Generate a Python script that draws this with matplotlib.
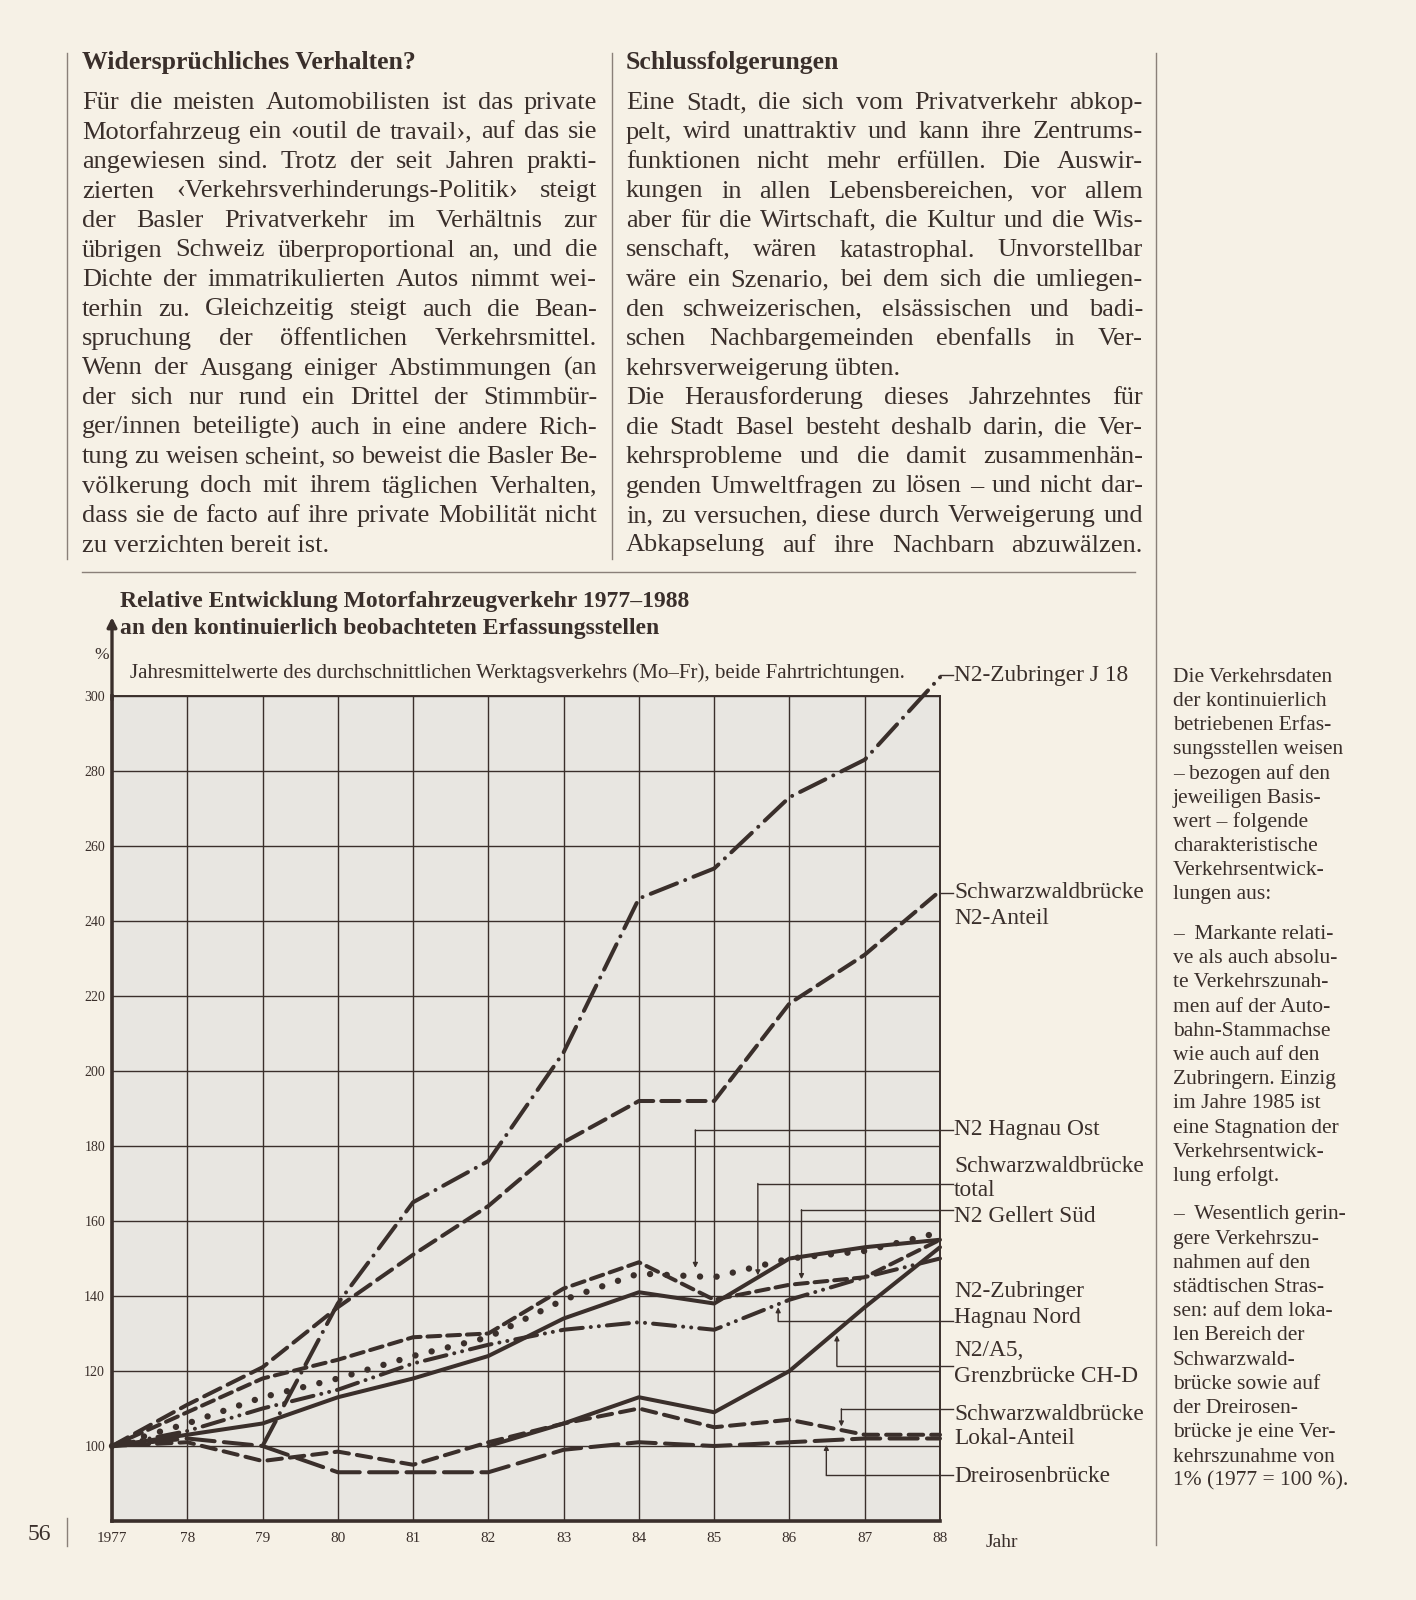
import matplotlib
matplotlib.use("Agg")
import matplotlib.pyplot as plt

# ===== data (1977 = 100) =====
years = list(range(1977, 1989))
years_j18 = list(range(1979, 1989))
years_a5 = list(range(1982, 1989))

j18 = [100, 138, 165, 176, 205, 246, 254, 273, 283, 305]
sb_n2 = [100, 111, 121, 137, 151, 164, 181, 192, 192, 218, 231, 248]
hagnau_ost = [100, 106, 113, 118, 124, 129, 139, 146, 145, 150, 152, 157]
sb_total = [100, 103, 106, 113, 118, 124, 134, 141, 138, 150, 153, 155]
gellert = [100, 109, 118, 123, 129, 130, 142, 149, 139, 143, 145, 155]
hagnau_nord = [100, 104, 110, 115, 122, 127, 131, 133, 131, 139, 145, 150]
grenz_a5 = [100, 106, 113, 109, 120, 137, 153]
sb_lokal = [100, 101, 96, 98.5, 95, 101, 106, 110, 105, 107, 103, 103]
dreirosen = [100, 102, 100, 93, 93, 93, 99, 101, 100, 101, 102, 102]

ytick_vals = [100, 120, 140, 160, 180, 200, 220, 240, 260, 280, 300]
xtick_labels = ["1977", "78", "79", "80", "81", "82", "83", "84", "85", "86", "87", "88"]

left_head = "Widersprüchliches Verhalten?"
left_lines = [
    "Für die meisten Automobilisten ist das private",
    "Motorfahrzeug ein ‹outil de travail›, auf das sie",
    "angewiesen sind. Trotz der seit Jahren prakti-",
    "zierten ‹Verkehrsverhinderungs-Politik› steigt",
    "der Basler Privatverkehr im Verhältnis zur",
    "übrigen Schweiz überproportional an, und die",
    "Dichte der immatrikulierten Autos nimmt wei-",
    "terhin zu. Gleichzeitig steigt auch die Bean-",
    "spruchung der öffentlichen Verkehrsmittel.",
    "Wenn der Ausgang einiger Abstimmungen (an",
    "der sich nur rund ein Drittel der Stimmbür-",
    "ger/innen beteiligte) auch in eine andere Rich-",
    "tung zu weisen scheint, so beweist die Basler Be-",
    "völkerung doch mit ihrem täglichen Verhalten,",
    "dass sie de facto auf ihre private Mobilität nicht",
    "zu verzichten bereit ist.",
]
left_last = {15}

right_head = "Schlussfolgerungen"
right_lines = [
    "Eine Stadt, die sich vom Privatverkehr abkop-",
    "pelt, wird unattraktiv und kann ihre Zentrums-",
    "funktionen nicht mehr erfüllen. Die Auswir-",
    "kungen in allen Lebensbereichen, vor allem",
    "aber für die Wirtschaft, die Kultur und die Wis-",
    "senschaft, wären katastrophal. Unvorstellbar",
    "wäre ein Szenario, bei dem sich die umliegen-",
    "den schweizerischen, elsässischen und badi-",
    "schen Nachbargemeinden ebenfalls in Ver-",
    "kehrsverweigerung übten.",
    "Die Herausforderung dieses Jahrzehntes für",
    "die Stadt Basel besteht deshalb darin, die Ver-",
    "kehrsprobleme und die damit zusammenhän-",
    "genden Umweltfragen zu lösen – und nicht dar-",
    "in, zu versuchen, diese durch Verweigerung und",
    "Abkapselung auf ihre Nachbarn abzuwälzen.",
]
right_last = {9}

side_paras = [
    ["Die Verkehrsdaten", "der kontinuierlich", "betriebenen Erfas-",
     "sungsstellen weisen", "– bezogen auf den", "jeweiligen Basis-",
     "wert – folgende", "charakteristische", "Verkehrsentwick-",
     "lungen aus:"],
    ["–  Markante relati-", "ve als auch absolu-", "te Verkehrszunah-",
     "men auf der Auto-", "bahn-Stammachse", "wie auch auf den",
     "Zubringern. Einzig", "im Jahre 1985 ist", "eine Stagnation der",
     "Verkehrsentwick-", "lung erfolgt."],
    ["–  Wesentlich gerin-", "gere Verkehrszu-", "nahmen auf den",
     "städtischen Stras-", "sen: auf dem loka-", "len Bereich der",
     "Schwarzwald-", "brücke sowie auf", "der Dreirosen-",
     "brücke je eine Ver-", "kehrszunahme von", "1% (1977 = 100 %)."],
]

# ===== style =====
PAGE = "#f6f1e6"
PLOT_BG = "#e8e6e1"
INK = "#3a2f2b"
SERIF = ["Liberation Serif", "DejaVu Serif"]
plt.rcParams["font.family"] = SERIF

W, H = 1416, 1600


def fx(x):
    return x / W


def fy(y):
    return 1 - y / H


fig = plt.figure(figsize=(W / 100, H / 100), dpi=100, facecolor=PAGE)
renderer = fig.canvas.get_renderer()


def put(x, y, s, size, weight="normal", ha="left"):
    return fig.text(fx(x), fy(y), s, fontsize=size, fontweight=weight,
                    color=INK, ha=ha, va="center")


def justify(line, x0, x1, y, size, last=False):
    if last:
        put(x0, y, line, size)
        return
    words = line.split(" ")
    texts = [put(0, y, w, size) for w in words]
    widths = [t.get_window_extent(renderer).width for t in texts]
    n_gaps = max(len(words) - 1, 1)
    min_gap = 4.0
    if sum(widths) + min_gap * n_gaps > x1 - x0:
        # too long at this size: shrink this line until it fits
        scale = (x1 - x0 - min_gap * n_gaps) / sum(widths)
        for t in texts:
            t.set_fontsize(size * scale)
        widths = [t.get_window_extent(renderer).width for t in texts]
    gap = (x1 - x0 - sum(widths)) / n_gaps
    x = x0
    for t, w in zip(texts, widths):
        t.set_x(fx(x))
        x += w + gap


# ===== page text =====
BODY = 19
put(82, 63, left_head, 18.5, "bold")
put(626, 63, right_head, 18.5, "bold")
for i, line in enumerate(left_lines):
    justify(line, 82, 597, 103 + 29.5 * i, BODY, i in left_last)
for i, line in enumerate(right_lines):
    justify(line, 626, 1143, 103 + 29.5 * i, BODY, i in right_last)

side_starts = [677, 934.5, 1215]
for start, para in zip(side_starts, side_paras):
    for i, line in enumerate(para):
        put(1173, start + 24.2 * i, line, 15.5)

put(28, 1535, "56", 17)

# rules
rule = dict(color="#8a8079", lw=1.0, transform=fig.transFigure)
fig.add_artist(plt.Line2D([fx(67), fx(67)], [fy(53), fy(559)], **rule))
fig.add_artist(plt.Line2D([fx(612), fx(612)], [fy(53), fy(559)], **rule))
fig.add_artist(plt.Line2D([fx(1156), fx(1156)], [fy(53), fy(1545)], **rule))
fig.add_artist(plt.Line2D([fx(82), fx(1135)], [fy(572), fy(572)], **rule))
fig.add_artist(plt.Line2D([fx(67), fx(67)], [fy(1518), fy(1546)], **rule))

# ===== chart =====
put(120, 602, "Relative Entwicklung Motorfahrzeugverkehr 1977–1988", 17, "bold")
put(120, 629, "an den kontinuierlich beobachteten Erfassungsstellen", 17, "bold")
put(130, 673, "Jahresmittelwerte des durchschnittlichen Werktagsverkehrs (Mo–Fr), "
    "beide Fahrtrichtungen.", 15)
put(94, 655, "%", 12.5)

ax = fig.add_axes([fx(112), fy(1521), 828 / W, 825 / H])
ax.set_facecolor(PLOT_BG)
ax.set_xlim(1977, 1988)
ax.set_ylim(80, 300)
ax.set_xticks(years)
ax.set_xticklabels(xtick_labels, fontsize=11, color=INK)
ax.set_yticks([80] + ytick_vals)
ax.set_yticklabels([""] + [str(v) for v in ytick_vals], fontsize=10, color=INK)
ax.tick_params(length=0, pad=5)
ax.tick_params(axis="x", pad=8)
ax.grid(True, color=INK, lw=1.0)
ax.set_axisbelow(True)
for side in ["top", "right"]:
    ax.spines[side].set_color(INK)
    ax.spines[side].set_linewidth(1.4)
for side in ["left", "bottom"]:
    ax.spines[side].set_color(INK)
    ax.spines[side].set_linewidth(2.6)

# y axis arrow above the plot
ax.annotate("", xy=(1977, 321), xytext=(1977, 299), annotation_clip=False,
            arrowprops=dict(arrowstyle="-|>", color=INK, lw=2.4,
                            mutation_scale=14, shrinkA=0, shrinkB=0))
ax.text(1988.6, 76.6, "Jahr", fontsize=14, color=INK, va="top", clip_on=False)

LW = 2.9
common = dict(color=INK, lw=LW, dash_capstyle="round", solid_capstyle="round",
              clip_on=False, solid_joinstyle="round")
ax.plot(years, dreirosen, ls=(0, (7, 2.3)), **common)
ax.plot(years, sb_lokal, ls=(0, (3.6, 2.0)), **common)
ax.plot(years_a5, grenz_a5, ls="-", **common)
ax.plot(years, hagnau_nord, ls=(0, (5.5, 2.0, 0.01, 2.0, 0.01, 2.0)), **common)
ax.plot(years, sb_total, ls="-", **common)
ax.plot(years, gellert, ls=(0, (3.2, 1.7)), **common)
ax.plot(years, hagnau_ost, ls=(0, (0.01, 2.6)), color=INK, lw=4.6,
        dash_capstyle="round", clip_on=False)
ax.plot(years, sb_n2, ls=(0, (4.5, 2.0)), **common)
ax.plot(years_j18, j18, ls=(0, (7, 2.2, 0.01, 2.2)), **common)

# ===== right-hand labels with leader lines =====
LX = 1988.0
TX = 1988.17
thin = dict(color=INK, lw=1.0, clip_on=False)


def leader(label_y, elbow_x=None, tip_y=None):
    if elbow_x is None:
        ax.plot([LX, TX], [label_y, label_y], **thin)
        return
    ax.plot([TX, elbow_x], [label_y, label_y], **thin)
    ax.annotate("", xy=(elbow_x, tip_y), xytext=(elbow_x, label_y),
                annotation_clip=False,
                arrowprops=dict(arrowstyle="-|>", color=INK, lw=1.0,
                                mutation_scale=7, shrinkA=0, shrinkB=0))


leader(305.5)
leader(247.5)
leader(184.3, 1984.75, 147.5)
leader(170.0, 1985.58, 145.5)
leader(163.0, 1986.16, 144.5)
leader(133.3, 1985.85, 137.0)
leader(121.3, 1986.63, 129.5)
leader(109.9, 1986.69, 105.2)
leader(92.2, 1986.49, 100.3)

LBL = 16.8
lx = 954
put(lx, 675, "N2-Zubringer J 18", LBL)
put(lx, 893, "Schwarzwaldbrücke", LBL)
put(lx, 918, "N2-Anteil", LBL)
put(lx, 1130, "N2 Hagnau Ost", LBL)
put(lx, 1167, "Schwarzwaldbrücke", LBL)
put(lx, 1190, "total", LBL)
put(lx, 1217, "N2 Gellert Süd", LBL)
put(lx, 1291, "N2-Zubringer", LBL)
put(lx, 1317, "Hagnau Nord", LBL)
put(lx, 1351, "N2/A5,", LBL)
put(lx, 1377, "Grenzbrücke CH-D", LBL)
put(lx, 1414, "Schwarzwaldbrücke", LBL)
put(lx, 1438, "Lokal-Anteil", LBL)
put(lx, 1476, "Dreirosenbrücke", LBL)

fig.savefig("out.png", dpi=100, facecolor=PAGE)
